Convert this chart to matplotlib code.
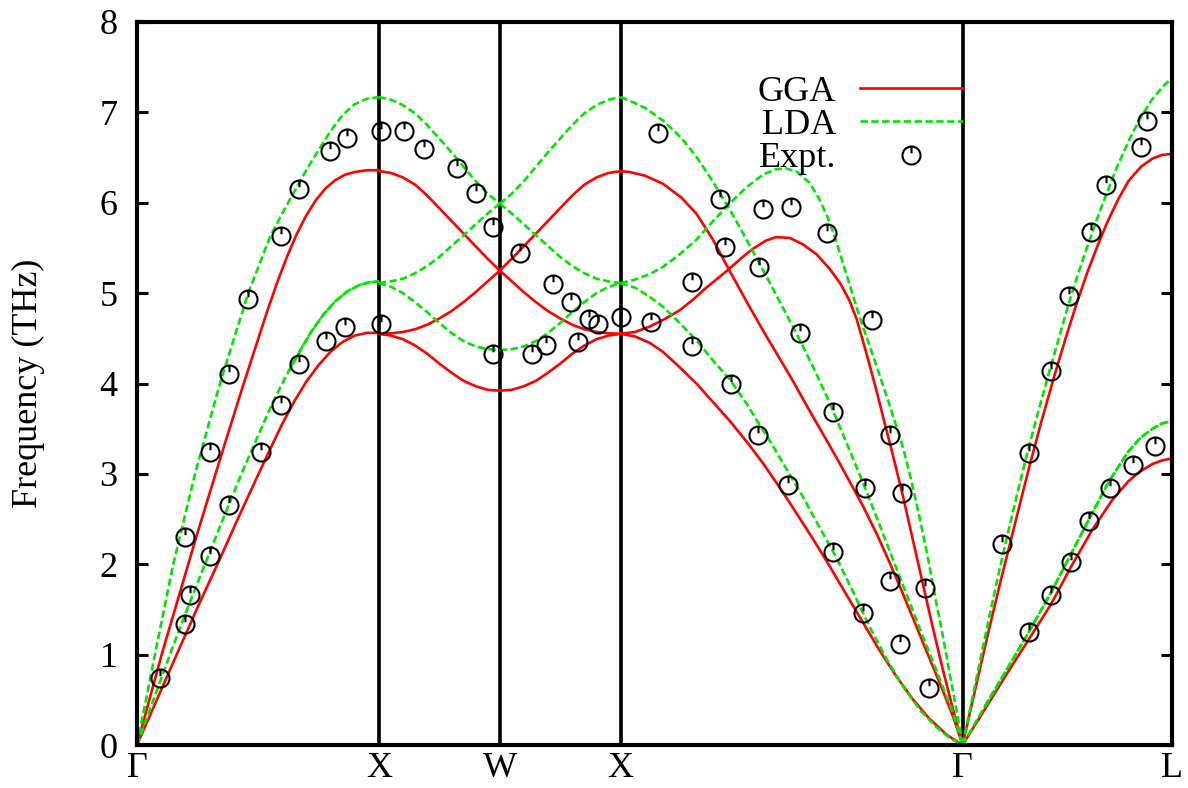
import numpy as np
import matplotlib
matplotlib.use('Agg')
import matplotlib.pyplot as plt
from matplotlib.path import Path
from matplotlib.lines import Line2D

plt.rcParams['font.family'] = ['Liberation Serif', 'DejaVu Serif']

# high symmetry points, path length Gamma-X-W-X-Gamma-L
kpos = [0.0, 1.0, 1.5, 2.0, 3.414, 4.280]
klabels = ['Γ', 'X', 'W', 'X', 'Γ', 'L']

# ---- Gamma - X ----
gx_gga_ta_x = [0, 0.164, 0.25, 0.336, 0.42, 0.494, 0.55, 0.60, 0.65, 0.70, 0.75, 0.80, 0.85, 0.90, 0.95, 1.0]
gx_gga_ta_y = [0, 1.0, 1.52, 2.02, 2.52, 2.95, 3.27, 3.55, 3.80, 4.02, 4.20, 4.35, 4.46, 4.53, 4.56, 4.56]
gx_gga_la_x = [0, 0.102, 0.247, 0.357, 0.439, 0.536, 0.58, 0.62, 0.66, 0.70, 0.74, 0.78, 0.82, 0.86, 0.90, 0.95, 1.0]
gx_gga_la_y = [0, 1.0, 2.32, 3.28, 3.98, 4.78, 5.12, 5.40, 5.65, 5.86, 6.03, 6.16, 6.25, 6.31, 6.34, 6.36, 6.36]
gx_lda_ta_x = [0, 0.136, 0.21, 0.281, 0.36, 0.432, 0.50, 0.56, 0.62, 0.674, 0.72, 0.77, 0.82, 0.87, 0.92, 0.96, 1.0]
gx_lda_ta_y = [0, 1.0, 1.52, 2.0, 2.53, 3.0, 3.42, 3.78, 4.10, 4.36, 4.57, 4.76, 4.91, 5.02, 5.09, 5.12, 5.13]
gx_lda_la_x = [0, 0.074, 0.150, 0.24, 0.343, 0.46, 0.55, 0.60, 0.65, 0.70, 0.75, 0.80, 0.85, 0.90, 0.95, 1.0]
gx_lda_la_y = [0, 1.0, 2.0, 3.0, 4.0, 5.0, 5.62, 5.88, 6.12, 6.36, 6.58, 6.79, 6.97, 7.09, 7.15, 7.17]

# ---- X - W ----
xw_x = [1.0, 1.05, 1.10, 1.15, 1.20, 1.25, 1.30, 1.35, 1.40, 1.45, 1.5]
xw_gga_1 = [6.35, 6.33, 6.28, 6.20, 6.08, 5.94, 5.80, 5.66, 5.52, 5.38, 5.25]
xw_gga_2 = [4.55, 4.555, 4.57, 4.60, 4.65, 4.72, 4.80, 4.90, 5.01, 5.13, 5.25]
xw_gga_3 = [4.55, 4.53, 4.49, 4.42, 4.33, 4.22, 4.12, 4.03, 3.97, 3.93, 3.92]
xw_lda_1 = [7.17, 7.14, 7.08, 6.99, 6.86, 6.71, 6.56, 6.40, 6.24, 6.10, 5.99]
xw_lda_2 = [5.11, 5.13, 5.16, 5.22, 5.30, 5.40, 5.52, 5.64, 5.76, 5.88, 5.99]
xw_lda_3 = [5.11, 5.07, 5.00, 4.90, 4.79, 4.67, 4.56, 4.47, 4.41, 4.38, 4.37]

# ---- W - X ----
wx_x = [1.5, 1.55, 1.60, 1.65, 1.70, 1.75, 1.80, 1.85, 1.90, 1.95, 2.0]
wx_gga_1 = [5.25, 5.38, 5.52, 5.66, 5.80, 5.94, 6.08, 6.20, 6.28, 6.33, 6.35]
wx_gga_2 = [5.25, 5.13, 5.01, 4.90, 4.80, 4.72, 4.65, 4.60, 4.57, 4.555, 4.55]
wx_gga_3 = [3.92, 3.93, 3.97, 4.03, 4.12, 4.22, 4.33, 4.42, 4.49, 4.53, 4.55]
wx_lda_1 = [5.99, 6.10, 6.24, 6.40, 6.56, 6.71, 6.86, 6.99, 7.08, 7.14, 7.17]
wx_lda_2 = [5.99, 5.88, 5.76, 5.64, 5.52, 5.40, 5.30, 5.22, 5.16, 5.13, 5.11]
wx_lda_3 = [4.37, 4.38, 4.41, 4.47, 4.56, 4.67, 4.79, 4.90, 5.00, 5.07, 5.11]

# ---- X - Gamma ----
xg_gga_a_x = [2.0, 2.037, 2.10, 2.175, 2.25, 2.313, 2.38, 2.45, 2.52, 2.588, 2.65, 2.712, 2.781, 2.85,
              2.905, 2.95, 3.001, 3.06, 3.112, 3.16, 3.208, 3.26, 3.305, 3.34, 3.374, 3.414]
xg_gga_a_y = [6.35, 6.34, 6.30, 6.21, 6.06, 5.88, 5.60, 5.25, 4.91, 4.59, 4.31, 4.03, 3.70, 3.38,
              3.12, 2.90, 2.65, 2.33, 2.02, 1.72, 1.41, 1.07, 0.78, 0.55, 0.32, 0.0]
xg_gga_b_x = [2.0, 2.06, 2.12, 2.18, 2.244, 2.30, 2.354, 2.40, 2.45, 2.50, 2.547, 2.60, 2.643, 2.70,
              2.753, 2.81, 2.864, 2.91, 2.946, 2.975, 3.001, 3.03, 3.06, 3.09, 3.12, 3.167, 3.21,
              3.25, 3.29, 3.33, 3.37, 3.414]
xg_gga_b_y = [4.55, 4.57, 4.63, 4.71, 4.81, 4.93, 5.06, 5.16, 5.27, 5.39, 5.49, 5.58, 5.62, 5.61,
              5.54, 5.43, 5.27, 5.10, 4.92, 4.72, 4.48, 4.20, 3.90, 3.58, 3.27, 2.76, 2.25,
              1.78, 1.31, 0.86, 0.44, 0.0]
xg_gga_c_x = [2.0, 2.06, 2.12, 2.175, 2.24, 2.313, 2.38, 2.45, 2.52, 2.588, 2.66, 2.726, 2.80, 2.864,
              2.93, 3.001, 3.07, 3.14, 3.21, 3.277, 3.35, 3.414]
xg_gga_c_y = [4.55, 4.52, 4.45, 4.35, 4.19, 4.00, 3.80, 3.59, 3.36, 3.12, 2.84, 2.57, 2.26, 1.98,
              1.68, 1.36, 1.05, 0.76, 0.50, 0.29, 0.11, 0.0]
xg_lda_a_x = [2.0, 2.037, 2.10, 2.175, 2.25, 2.313, 2.38, 2.45, 2.519, 2.588, 2.657, 2.726, 2.80, 2.85,
              2.891, 2.95, 3.001, 3.06, 3.112, 3.16, 3.208, 3.26, 3.305, 3.34, 3.374, 3.414]
xg_lda_a_y = [7.17, 7.13, 7.05, 6.91, 6.72, 6.51, 6.24, 5.93, 5.60, 5.26, 4.91, 4.56, 4.16, 3.87,
              3.62, 3.24, 2.91, 2.51, 2.15, 1.82, 1.49, 1.13, 0.83, 0.59, 0.36, 0.0]
xg_lda_b_x = [2.0, 2.06, 2.12, 2.175, 2.24, 2.313, 2.38, 2.45, 2.52, 2.588, 2.64, 2.685, 2.73, 2.781,
              2.82, 2.864, 2.90, 2.946, 2.99, 3.029, 3.07, 3.11, 3.167, 3.20, 3.236, 3.27, 3.305,
              3.33, 3.36, 3.39, 3.414]
xg_lda_b_y = [5.11, 5.15, 5.21, 5.29, 5.42, 5.59, 5.79, 5.99, 6.17, 6.31, 6.37, 6.38, 6.34, 6.22,
              6.05, 5.79, 5.50, 5.10, 4.72, 4.42, 4.10, 3.78, 3.30, 2.95, 2.52, 2.08, 1.58,
              1.24, 0.80, 0.37, 0.0]
xg_lda_c_x = [2.0, 2.06, 2.12, 2.175, 2.24, 2.313, 2.38, 2.45, 2.52, 2.58, 2.616, 2.68, 2.753, 2.82,
              2.891, 2.96, 3.029, 3.10, 3.167, 3.24, 3.305, 3.36, 3.414]
xg_lda_c_y = [5.11, 5.06, 4.96, 4.85, 4.68, 4.48, 4.26, 4.05, 3.78, 3.52, 3.37, 3.08, 2.75, 2.42,
              2.08, 1.70, 1.31, 0.95, 0.65, 0.38, 0.20, 0.08, 0.0]

# ---- Gamma - L ----
gl_gga_ta_x = [3.414, 3.50, 3.60, 3.688, 3.778, 3.864, 3.95, 4.03, 4.10, 4.15, 4.20, 4.24, 4.280]
gl_gga_ta_y = [0, 0.37, 0.80, 1.17, 1.55, 1.98, 2.38, 2.70, 2.92, 3.03, 3.11, 3.15, 3.17]
gl_gga_la_x = [3.414, 3.47, 3.52, 3.57, 3.615, 3.655, 3.694, 3.74, 3.793, 3.84, 3.884, 3.93, 3.973,
               4.01, 4.056, 4.10, 4.152, 4.20, 4.24, 4.280]
gl_gga_la_y = [0, 0.66, 1.24, 1.80, 2.28, 2.71, 3.12, 3.58, 4.08, 4.50, 4.87, 5.23, 5.53,
               5.77, 6.03, 6.24, 6.40, 6.49, 6.53, 6.54]
gl_lda_ta_x = [3.414, 3.50, 3.60, 3.688, 3.778, 3.86, 3.937, 4.02, 4.10, 4.15, 4.20, 4.24, 4.280]
gl_lda_ta_y = [0, 0.40, 0.85, 1.25, 1.68, 2.10, 2.50, 2.92, 3.25, 3.40, 3.50, 3.56, 3.58]
gl_lda_la_x = [3.414, 3.47, 3.52, 3.56, 3.601, 3.64, 3.677, 3.72, 3.767, 3.81, 3.849, 3.89, 3.932,
               3.97, 4.001, 4.05, 4.111, 4.15, 4.194, 4.24, 4.280]
gl_lda_la_y = [0, 0.72, 1.36, 1.86, 2.34, 2.78, 3.18, 3.62, 4.08, 4.48, 4.85, 5.20, 5.53,
               5.82, 6.04, 6.38, 6.74, 6.94, 7.13, 7.28, 7.38]

# ---- experiment ----
expt_x = [0.095, 0.198, 0.22, 0.30, 0.38, 0.198, 0.30, 0.38, 0.459, 0.596, 0.670, 0.797, 0.867, 1.008,
          0.513, 0.597, 0.670, 0.782, 0.862, 1.008,
          1.103, 1.187, 1.324, 1.401, 1.473, 1.584, 1.72, 1.794, 1.87, 1.906, 2.0, 1.823, 1.693, 1.634, 1.473,
          2.154, 2.412, 2.588, 2.705, 2.853, 2.430, 2.572, 2.296, 2.127, 2.296, 2.457, 2.742, 3.038,
          2.877, 2.567, 3.113, 2.694, 3.012, 3.164, 2.877, 3.112, 3.26, 3.001, 3.156, 3.274,
          3.578, 3.688, 3.778, 3.854, 3.946, 4.008, 4.153, 4.176,
          3.688, 3.778, 3.864, 3.937, 4.023, 4.119, 4.209]
expt_y = [0.74, 1.34, 1.66, 2.09, 2.66, 2.30, 3.24, 4.11, 4.93, 5.63, 6.15, 6.57, 6.72, 6.79,
          3.24, 3.76, 4.22, 4.47, 4.62, 4.66,
          6.79, 6.60, 6.39, 6.11, 5.73, 5.44, 5.10, 4.90, 4.71, 4.66, 4.74, 4.46, 4.43, 4.33, 4.33,
          6.77, 6.04, 5.93, 5.95, 5.67, 5.51, 5.29, 5.12, 4.68, 4.42, 4.00, 4.56, 4.70,
          3.69, 3.43, 3.43, 2.88, 2.84, 2.79, 2.14, 1.81, 1.74, 1.46, 1.12, 0.63,
          2.22, 3.23, 4.14, 4.97, 5.68, 6.20, 6.62, 6.90,
          1.25, 1.66, 2.02, 2.48, 2.84, 3.10, 3.31]

red = '#ff0000'
green = '#00e600'
lw = 1.9
dash = (0, (2.8, 1.3))
dash2 = (2.8, (2.8, 1.3))
fs = 26

gga = [(gx_gga_ta_x, gx_gga_ta_y), (gx_gga_la_x, gx_gga_la_y),
       (xw_x, xw_gga_1), (xw_x, xw_gga_2), (xw_x, xw_gga_3),
       (wx_x, wx_gga_1), (wx_x, wx_gga_2), (wx_x, wx_gga_3),
       (xg_gga_a_x, xg_gga_a_y), (xg_gga_b_x, xg_gga_b_y), (xg_gga_c_x, xg_gga_c_y),
       (gl_gga_ta_x, gl_gga_ta_y), (gl_gga_la_x, gl_gga_la_y)]
lda = [(gx_lda_ta_x, gx_lda_ta_y), (gx_lda_la_x, gx_lda_la_y),
       (xw_x, xw_lda_1), (xw_x, xw_lda_2), (xw_x, xw_lda_3),
       (wx_x, wx_lda_1), (wx_x, wx_lda_2), (wx_x, wx_lda_3),
       (xg_lda_a_x, xg_lda_a_y), (xg_lda_b_x, xg_lda_b_y), (xg_lda_c_x, xg_lda_c_y),
       (gl_lda_ta_x, gl_lda_ta_y), (gl_lda_la_x, gl_lda_la_y)]

# circle with small tick on top (gnuplot-ish point)
circ = Path.unit_circle()
mverts = np.concatenate([circ.vertices, [[0, 1], [0, 0.25]]])
mcodes = np.concatenate([circ.codes, [Path.MOVETO, Path.LINETO]])
expt_marker = Path(mverts, mcodes)

fig = plt.figure(figsize=(11.88, 7.88), dpi=100)
ax = fig.add_axes([137/1188, 43/788, 1035/1188, 723/788])

for xs, ys in gga:
    ax.plot(xs, ys, color=red, lw=lw, solid_joinstyle='round')
for xs, ys in lda:
    ax.plot(xs, ys, color=green, lw=lw, linestyle=dash)
# degenerate TA branches look solid where the two dashed copies overlap
ax.plot(gx_lda_ta_x[8:], gx_lda_ta_y[8:], color=green, lw=lw, linestyle=dash2)
ax.plot(gl_lda_ta_x[1:], gl_lda_ta_y[1:], color=green, lw=lw, linestyle=dash2)

ax.plot(expt_x, expt_y, linestyle='none', marker=expt_marker, markersize=13,
        markerfacecolor='none', markeredgecolor='black', markeredgewidth=1.5)

for k in kpos[1:-1]:
    ax.axvline(k, color='black', lw=2.6, zorder=1)

ax.set_xlim(kpos[0], kpos[-1])
ax.set_ylim(0, 8)
ax.set_xticks(kpos)
ax.set_xticklabels(klabels)
ax.set_yticks(range(0, 9))
ax.tick_params(axis='x', length=0, pad=5, labelsize=fs)
ax.tick_params(axis='y', direction='in', length=8, width=2.2, right=True, pad=14, labelsize=fs)
for sp in ax.spines.values():
    sp.set_linewidth(3)

ax.set_ylabel('Frequency (THz)', fontsize=fs)
ax.yaxis.set_label_coords(-0.089, 0.5)

handles = [Line2D([], [], color=red, lw=lw),
           Line2D([], [], color=green, lw=lw, linestyle=dash),
           Line2D([], [], linestyle='none', marker=expt_marker, markersize=13,
                  markerfacecolor='none', markeredgecolor='black', markeredgewidth=1.5)]
ax.legend(handles, ['GGA', 'LDA', 'Expt.'], loc='upper right', bbox_to_anchor=(0.798, 0.926),
          frameon=False, markerfirst=False, fontsize=fs, handlelength=2.86, handletextpad=0.65,
          labelspacing=0.0, borderpad=0, borderaxespad=0)

fig.savefig('out.png', dpi=100)
